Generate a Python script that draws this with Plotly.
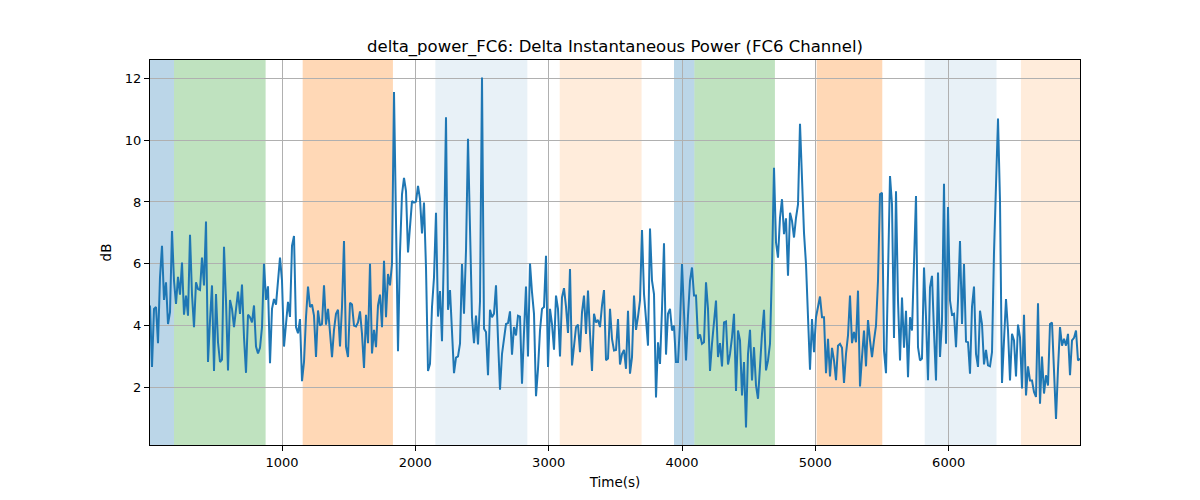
import numpy as np
import plotly.graph_objects as go

# ---- data ----
t_start = 10
t_step = 15

seg1 = [4.65,2.66,4.54,4.6,3.43,5.56,6.58,4.83,5.4,4.05,4.43,7.06,5.45,4.7,5.58,5.0,6.04,4.35,4.97,4.32,
        6.94,5.0,3.95,5.4,5.18,5.15,6.2,5.3,7.37,2.82,4.16,5.3,2.53,5.02,3.46,2.82,2.9,6.55,4.8,2.55,
        4.83,4.54,3.95,4.6,5.1,4.38,5.33,3.62,2.47,4.35,4.27,4.1,4.65,3.32,3.1,3.28,3.95]
seg2 = [6.0,4.83,5.27,2.78,4.54,4.86,4.68,5.5,6.2,5.45,3.32,4.05,4.77,4.28,6.58,6.9,3.95,3.75,4.21,2.2,
        2.82,4.27,5.26,4.6,4.68,4.32,2.98,4.49,4.0,4.05,5.3,4.03,4.54,3.78,2.98,3.86,4.38,4.51,3.32,4.6,
        6.74,3.32,2.98,4.74,4.68,4.0,3.97,4.1,4.46,3.73,2.63,4.35,3.43,6.0,3.1,3.86,3.3,4.65]
seg3 = [5.0,3.95,6.1,4.27,5.67,5.3,6.0,11.56,7.92,3.17,6.37,8.25,8.78,8.35,6.37,7.39,8.03,7.98,8.01,8.52,
        8.09,6.98,7.98,5.88,2.53,2.76,4.6,5.56,7.65,4.29,5.12,3.49,6.53,10.74,4.51,5.15,3.52,2.46,2.96,3.0,
        3.41,5.99,4.38,6.42,10.05,7.17,4.27,3.43,4.32,3.39,4.78,12.03,3.9,3.79,2.39,4.51,4.27]
seg4 = [4.38,5.3,3.57,1.92,3.08,3.54,4.05,4.08,4.46,3.06,3.95,3.68,4.32,4.29,2.12,3.78,5.26,3.0,6.01,5.08,
        4.38,1.71,2.6,3.84,4.54,4.6,6.26,2.66,4.54,4.05,3.22,4.97,4.54,3.0,4.91,5.21,4.61,3.76,5.83,2.71,
        3.32,3.95,4.03,3.14,4.43,4.97,3.73,5.13,3.73,2.53,4.38,4.1,4.18,3.95,4.65,5.15,2.88,2.93]
seg5 = [4.54,3.57,3.19,3.21,4.21,2.74,3.08,3.21,2.6,4.48,2.44,2.98,4.97,3.86,4.29,4.81,7.09,5.02,4.21,3.35,
        7.14,5.45,5.02,1.67,3.46,2.76,4.54,6.66,3.06,4.38,4.54,3.84,4.0,2.82,2.82,4.05,5.99,4.6,2.87,4.32,
        5.45,5.88,4.97,4.97,3.57,3.71,3.41,3.46,5.4,4.54,2.53,3.41,4.05,4.81,2.98,3.43,2.68]
seg6 = [4.1,4.13,2.74,3.08,3.62,4.38,1.88,3.84,3.52,1.74,2.82,0.7,3.08,3.86,2.22,3.3,2.06,1.63,2.76,3.73,
        4.51,2.55,2.87,3.41,5.88,9.11,6.69,6.2,7.49,8.09,6.96,7.47,5.61,7.65,7.39,6.85,7.49,7.92,10.53,8.52,
        7.0,5.99,4.16,2.57,4.21,3.14,4.27,4.6,4.94,4.27,4.27,2.46,3.57,2.35,3.28,2.87,2.23,3.35]
seg7 = [3.41,3.28,2.14,3.08,3.68,4.97,3.43,3.79,3.46,5.13,2.03,2.98,3.84,2.68,4.18,3.52,2.98,3.52,4.0,5.45,
        8.25,8.3,3.19,2.46,5.67,8.84,7.92,3.6,8.35,4.81,2.87,4.91,3.28,4.48,2.33,4.27,3.84,6.09,8.19,3.3,
        2.87,2.93,5.88,4.27,2.23,5.24,5.61,3.79,2.22,5.72,2.98,4.16,8.59,3.41,7.84,4.81,4.35,4.38]
seg8 = [3.3,4.81,6.74,4.05,5.99,3.48,3.46,2.44,4.61,5.26,3.08,2.66,4.48,4.05,2.74,3.21,2.71,2.68,3.14,6.37,
        8.25,10.7,8.03,2.14,3.52,4.86,3.84,2.22,3.73,3.52,2.35,4.03,3.62,1.96,4.35,1.74,2.68,2.22,2.22,1.85,
        1.69,4.72,1.47,3.0,1.8,2.39,2.06,4.05,4.1,2.66,0.98,2.6,3.95,3.35,3.57,3.35,3.73,2.39,3.52,3.6,
        3.84,2.87,2.93]

power_db = seg1 + seg2 + seg3 + seg4 + seg5 + seg6 + seg7 + seg8
time_s = t_start + t_step * np.arange(len(power_db))

# shaded intervals: (start, end, colour, alpha)
span_start = [10, 190, 1155, 2150, 3083, 3940, 4093, 5010, 5820, 6542]
span_end = [190, 877, 1832, 2840, 3697, 4093, 4697, 5502, 6359, 6985]
span_color = ["#1f77b4", "#2ca02c", "#ff7f0e", "#1f77b4", "#ff7f0e",
              "#1f77b4", "#2ca02c", "#ff7f0e", "#1f77b4", "#ff7f0e"]
span_alpha = [0.3, 0.3, 0.3, 0.1, 0.15, 0.3, 0.3, 0.3, 0.1, 0.15]

x_ticks = [1000, 2000, 3000, 4000, 5000, 6000]
y_ticks = [2, 4, 6, 8, 10, 12]

# ---- figure ----
fig = go.Figure()
fig.add_trace(go.Scatter(x=time_s, y=power_db, mode="lines",
                         line=dict(color="#1f77b4", width=2), showlegend=False))

def rgba(hexc, a):
    h = hexc.lstrip("#")
    return "rgba(%d,%d,%d,%s)" % (int(h[0:2], 16), int(h[2:4], 16), int(h[4:6], 16), a)

for s, e, c, a in zip(span_start, span_end, span_color, span_alpha):
    fig.add_shape(type="rect", xref="x", yref="paper", x0=s, x1=e, y0=0, y1=1,
                  fillcolor=rgba(c, a), line=dict(width=0), layer="below")

ymin, ymax = min(power_db), max(power_db)
yr = ymax - ymin

W, H = 1184, 484
font = "DejaVu Sans"
fig.update_layout(
    width=W, height=H,
    margin=dict(l=142, r=112, t=52, b=47, autoexpand=False),
    paper_bgcolor="white", plot_bgcolor="white",
    font=dict(family=font, size=13, color="black"),
    title=dict(text="delta_power_FC6: Delta Instantaneous Power (FC6 Channel)",
               x=0.5, xref="paper", xanchor="center",
               y=1 - 38 / H, yref="container", yanchor="middle",
               font=dict(family=font, size=16.5, color="black")),
    xaxis=dict(range=[time_s[0], time_s[-1]], tickvals=x_ticks, automargin=False,
               showgrid=True, gridcolor="#b0b0b0", gridwidth=1,
               showline=True, linecolor="black", linewidth=1, mirror=True,
               ticks="outside", ticklen=5, tickcolor="black", zeroline=False,
               title=dict(text="Time(s)", font=dict(family=font, size=13.5), standoff=8)),
    yaxis=dict(range=[ymin - 0.05 * yr, ymax + 0.05 * yr], tickvals=y_ticks, automargin=False,
               showgrid=True, gridcolor="#b0b0b0", gridwidth=1,
               showline=True, linecolor="black", linewidth=1, mirror=True,
               ticks="outside", ticklen=5, tickcolor="black", zeroline=False,
               title=dict(text="dB", font=dict(family=font, size=13.5), standoff=10)),
)

fig.write_html("out.html")
